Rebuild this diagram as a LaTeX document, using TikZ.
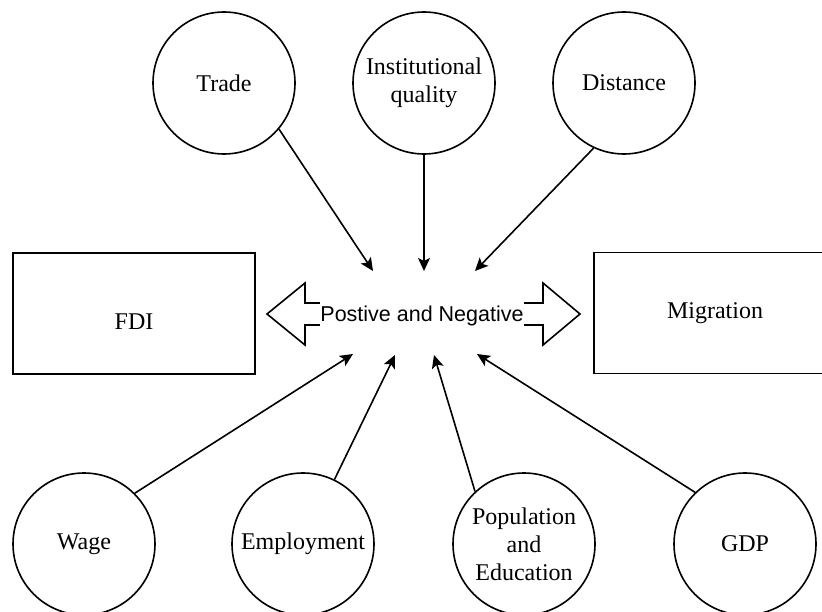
\documentclass[tikz,border=0pt]{standalone}
\usepackage{fontspec}
\setmainfont{Liberation Serif}
\newfontfamily\labelsans{Liberation Sans}
\usetikzlibrary{arrows.meta}
\begin{document}
\begin{tikzpicture}[x=1pt,y=-1pt,
  circ/.style={circle,draw,line width=1.6pt,minimum size=142pt,inner sep=0pt,align=center,
    font=\fontsize{24}{28}\selectfont},
  rectbox/.style={draw,line width=1.6pt,inner sep=0pt,minimum width=242pt,minimum height=121pt,
    font=\fontsize{24}{28}\selectfont},
  conn/.style={line width=1.6pt,-{Stealth[length=13pt,width=12pt,inset=3pt]}},
  bigarrow/.style={draw,line width=1.6pt,line join=miter,fill=white}]
\useasboundingbox (0,0) rectangle (822,612);

% top circles
\node[circ] (trade) at (224,83) {Trade};
\node[circ] (inst) at (424,83) {Institutional\\quality};
\node[circ] (dist) at (624,83) {Distance};

% bottom circles
\node[circ] (wage) at (84,544) {Wage};
\node[circ] (emp) at (303,544) {Employment};
\node[circ] (pop) at (524,544) {Population\\and\\Education};
\node[circ] (gdp) at (745,544) {GDP};

% rectangles
\node[rectbox,text height=33pt,text depth=0pt] (fdi) at (134,313.5) {FDI};
\node[rectbox] (mig) at (715,313) {Migration};

% double block arrow with label
\path[bigarrow] (267,314) -- (305,283) -- (305,303) -- (543,303) -- (543,283) -- (580,314)
  -- (543,345) -- (543,325) -- (305,325) -- (305,345) -- cycle;
\node[font=\labelsans\fontsize{21.5}{24}\selectfont,fill=white,inner xsep=0pt,inner ysep=4pt,
  anchor=base] (mid) at (422,322) {Postive and Negative};

% connector free ends
\coordinate (tT) at (373,271);
\coordinate (tI) at (424,271);
\coordinate (tD) at (475,271);
\coordinate (tW) at (353,354);
\coordinate (tE) at (395,355);
\coordinate (tP) at (434,355);
\coordinate (tG) at (477,354);

% connectors
\draw[conn] (trade.-40) -- (tT);
\draw[conn] (inst.south) -- (tI);
\draw[conn] (dist.-115) -- (tD);
\draw[conn] (wage.45) -- (tW);
\draw[conn] (emp.64) -- (tE);
\draw[conn] (pop.133) -- (tP);
\draw[conn] (gdp.134) -- (tG);
\end{tikzpicture}
\end{document}
